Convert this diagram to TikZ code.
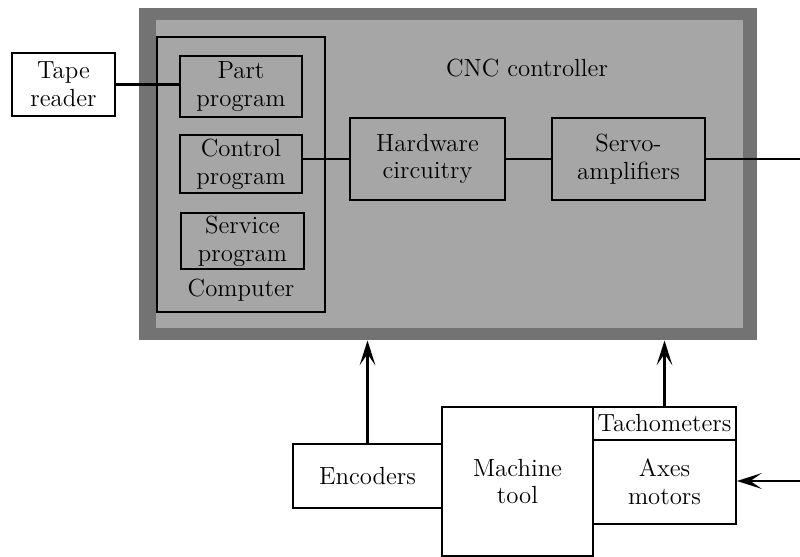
\documentclass[tikz,border=0pt]{standalone}
\usetikzlibrary{arrows.meta}

\begin{document}
\begin{tikzpicture}[x=0.0156cm, y=-0.0156cm, >={Stealth[length=11pt,width=7pt,inset=5pt]},
  font=\fontsize{11}{12.3}\selectfont]
\tikzstyle{blk}=[draw, line width=0.8pt, align=center, inner sep=1pt]
\tikzstyle{ln}=[line width=1pt]
\useasboundingbox (0,0) rectangle (800,557);

% CNC controller frame
\node[fill=black!55, minimum width=9.64cm, minimum height=5.18cm, inner sep=0] (ctrl) at (448,174) {};
\node[fill=black!35, minimum width=9.16cm, minimum height=4.80cm, inner sep=0] (ctrlin) at (449.5,174) {};
\node (cnc) at (527,68) {CNC controller};

% computer and its programs
\node[blk, minimum width=2.62cm, minimum height=4.29cm] (comp) at (241,174.5) {};
\node (complbl) at (241,290) {Computer};
\node[blk, minimum width=1.90cm, minimum height=0.95cm] (part) at (241,86.5) {Part\\program};
\node[blk, minimum width=1.90cm, minimum height=0.90cm] (cprog) at (241,164) {Control\\program};
\node[blk, minimum width=1.92cm, minimum height=0.87cm] (serv) at (242.5,241) {Service\\program};

\node[blk, fill=white, minimum width=1.61cm, minimum height=0.98cm] (tape) at (63.5,84.5) {Tape\\reader};

\node[blk, minimum width=2.42cm, minimum height=1.29cm] (hw) at (427.5,159) {Hardware\\circuitry};
\node[blk, minimum width=2.39cm, minimum height=1.29cm] (servo) at (628.5,159) {Servo-\\amplifiers};

% machine side
\node[blk, minimum width=2.32cm, minimum height=1.00cm] (enc) at (367.5,476) {Encoders};
\node[blk, fill=white, minimum width=2.36cm, minimum height=2.32cm] (mach) at (517.5,481.5) {Machine\\tool};
\node[blk, minimum width=2.23cm, minimum height=0.51cm] (tach) at (664.5,423.5) {Tachometers};
\node[blk, minimum width=2.23cm, minimum height=1.31cm] (axes) at (664.5,482) {Axes\\motors};

\coordinate (out) at (800,159);
\coordinate (in) at (800,481);

\draw[ln] (tape.east) -- (part.west |- tape.east);
\draw[ln] (cprog.east |- hw.west) -- (hw.west);
\draw[ln] (hw) -- (servo);
\draw[ln] (servo.east) -- (out);
%\draw[ln] (out) -- (in);
\draw[ln, ->] (in) -- (axes.east |- in);
\draw[ln, ->] (enc.north) -- (enc.north |- ctrl.south);
\draw[ln, ->] (tach.north) -- (tach.north |- ctrl.south);
\end{tikzpicture}
\end{document}
